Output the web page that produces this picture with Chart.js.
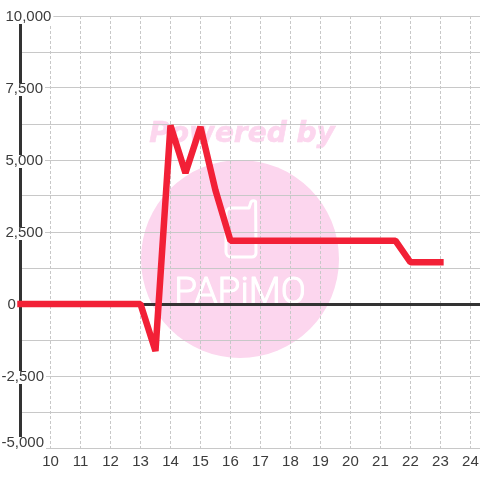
<!DOCTYPE html>
<html>
<head>
<meta charset="utf-8">
<style>
  html, body { margin: 0; padding: 0; background: #fff; }
  #wrap { width: 480px; height: 480px; }
</style>
<script src="https://cdn.jsdelivr.net/npm/chart.js@4/dist/chart.umd.min.js"></script>
</head>
<body>
<div id="wrap"><canvas id="chart" width="480" height="480"></canvas></div>
<script>
const hours = [9, 13, 13.5, 14, 14.5, 15, 15.5, 16, 21.5, 22, 23]
const profit = [0, 0, -1630, 6200, 4550, 6150, 3950, 2200, 2200, 1450, 1450]
const yLabels = {
  10000: '10,000',
  7500: '7,500',
  5000: '5,000',
  2500: '2,500',
  0: '0',
  '-2500': '-2,500',
  '-5000': '-5,000'
}

// pink watermark sits under the grid
const watermark = {
  id: 'watermark',
  beforeDraw(chart) {
    const c = chart.ctx
    c.save()
    c.fillStyle = '#fcd6ee'
    c.beginPath()
    c.arc(240, 259, 99, 0, Math.PI * 2)
    c.fill()
    c.font = 'italic bold 28px "DejaVu Sans"'
    c.textAlign = 'center'
    c.textBaseline = 'middle'
    c.strokeStyle = '#fcd6ee'
    c.lineWidth = 0.6
    c.fillText('Powered by', 242, 135)
    c.strokeText('Powered by', 242, 135)

    // phone icon
    c.strokeStyle = '#fff'
    c.lineWidth = 3
    c.lineJoin = 'round'
    c.beginPath()
    c.moveTo(226, 213)
    c.arcTo(226, 208, 232, 208, 5)
    c.lineTo(249, 208)
    c.lineTo(251, 202)
    c.arcTo(253, 199, 256, 202, 3)
    c.lineTo(256, 253)
    c.arcTo(256, 257, 251, 257, 4)
    c.lineTo(231, 257)
    c.arcTo(226, 257, 226, 252, 5)
    c.closePath()
    c.stroke()

    c.fillStyle = '#fff'
    c.font = '300 37px "Roboto"'
    c.textBaseline = 'alphabetic'
    c.lineWidth = 1
    c.fillText('PAPiMO', 240, 303)
    c.strokeText('PAPiMO', 240, 303)
    c.restore()
  }
}

// the y labels in the reference are not quite centred on their ticks
const nudgeLabels = {
  id: 'nudgeLabels',
  beforeDraw(chart) {
    chart.scales.y.getLabelItems().forEach(item => {
      const o = item.options
      const label = item.label
      if (!label) return
      o.translation[0] += label === '0' ? 6 : (label[0] === '-' ? 0 : 4)
      o.translation[1] += label === '-5,000' ? -5 : 1
      // backdrop coords are relative to the translated label
      if (o.backdrop) {
        o.backdrop.top = -6
        o.backdrop.height = 13
      }
    })
  }
}

new Chart(document.getElementById('chart'), {
  type: 'line',
  plugins: [watermark, nudgeLabels],
  data: {
    datasets: [{
      data: hours.map((h, i) => ({x: h, y: profit[i]})),
      borderColor: '#f22036',
      borderWidth: 6.5,
      borderCapStyle: 'square',
      borderJoinStyle: 'bevel',
      pointRadius: 0,
      tension: 0,
      clip: false
    }]
  },
  options: {
    responsive: false,
    animation: false,
    layout: {autoPadding: false, padding: {left: 20.5, top: 16, right: 0, bottom: 0}},
    plugins: {legend: {display: false}, tooltip: {enabled: false}},
    scales: {
      x: {
        type: 'linear',
        min: 9,
        max: 24.32,
        afterFit(s) {
          s.height = 32
          s.paddingLeft = 0
          s.paddingRight = 0
        },
        border: {display: false, dash: [3, 2]},
        grid: {
          color: '#c8c8c8',
          lineWidth: 1,
          drawTicks: false
        },
        ticks: {
          stepSize: 1,
          includeBounds: false,
          autoSkip: false,
          maxRotation: 0,
          padding: 5,
          color: '#3c3c3c',
          font: {family: '"Liberation Sans"', size: 15},
          callback: v => (v >= 10 ? String(v) : '')
        }
      },
      y: {
        min: -5000,
        max: 10000,
        afterFit(s) { s.width = 0 },
        border: {display: true, color: '#333', width: 3},
        grid: {
          drawTicks: false,
          color: c => (c.tick.value === 0 ? '#333' : '#c8c8c8'),
          lineWidth: c => (c.tick.value === 0 ? 3 : 1)
        },
        ticks: {
          stepSize: 1250,
          autoSkip: false,
          mirror: true,
          color: '#3c3c3c',
          padding: -19,
          font: {family: '"Liberation Sans"', size: 15},
          showLabelBackdrop: c => yLabels[c.tick.value] !== undefined,
          backdropColor: '#fff',
          backdropPadding: 2,
          callback: v => yLabels[v] || ''
        }
      }
    }
  }
})
</script>
</body>
</html>
